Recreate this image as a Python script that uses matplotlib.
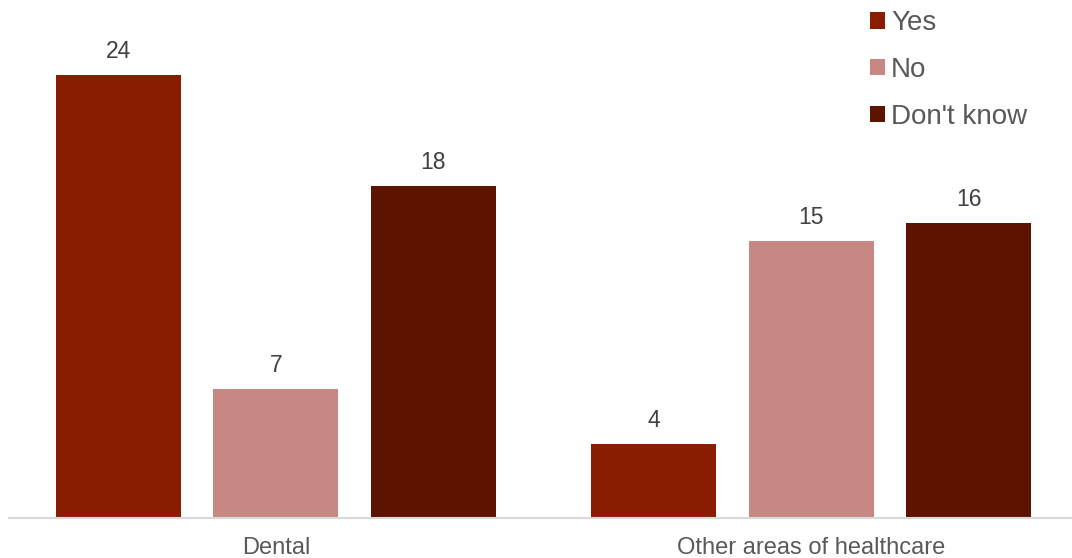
import matplotlib
matplotlib.use("Agg")
import matplotlib.pyplot as plt
import numpy as np

categories = ["Dental", "Other areas of healthcare"]
series_names = ["Yes", "No", "Don't know"]
yes_vals = [24, 4]
no_vals = [7, 15]
dk_vals = [18, 16]
colors = ["#881D02", "#C78782", "#5C1400"]

plt.rcParams['font.family'] = ['Liberation Sans', 'DejaVu Sans']

fig = plt.figure(figsize=(10.72, 5.58), dpi=100)
ax = fig.add_axes([0.0, 40 / 558, 1.0, 517 / 558])

x = np.arange(len(categories))
offset = 157.5 / 535
width = 125 / 535
for i, (name, vals, col) in enumerate(zip(series_names, [yes_vals, no_vals, dk_vals], colors)):
    bars = ax.bar(x + (i - 1) * offset, vals, width, color=col, label=name)
    for b, v in zip(bars, vals):
        ax.text(b.get_x() + b.get_width() / 2, v + 0.65, f"{v}", ha="center", va="bottom",
                fontsize=16.5, color="#404040")

x_lo, x_hi = -276 / 535, 796 / 535
ax.set_xlim(x_lo, x_hi)
ax.set_ylim(0, 28)
ax.set_xticks(x)
ax.set_xticklabels(categories, fontsize=17, color="#595959")
ax.tick_params(axis="x", length=0, pad=14)
ax.set_yticks([])
for s in ["top", "right", "left"]:
    ax.spines[s].set_visible(False)
ax.spines["bottom"].set_color("#D9D9D9")
ax.spines["bottom"].set_linewidth(1.5)
ax.spines["bottom"].set_bounds(x_lo + 9 / 535, x_hi)

leg = ax.legend(loc="upper left", bbox_to_anchor=(859 / 1072, 1.0 + 1 / 517), bbox_transform=fig.transFigure,
                frameon=False, fontsize=20, handlelength=0.55, handleheight=0.55,
                handletextpad=0.2, labelspacing=0.75, borderaxespad=0)
for t in leg.get_texts():
    t.set_color("#595959")

fig.savefig("out.png", dpi=100)
